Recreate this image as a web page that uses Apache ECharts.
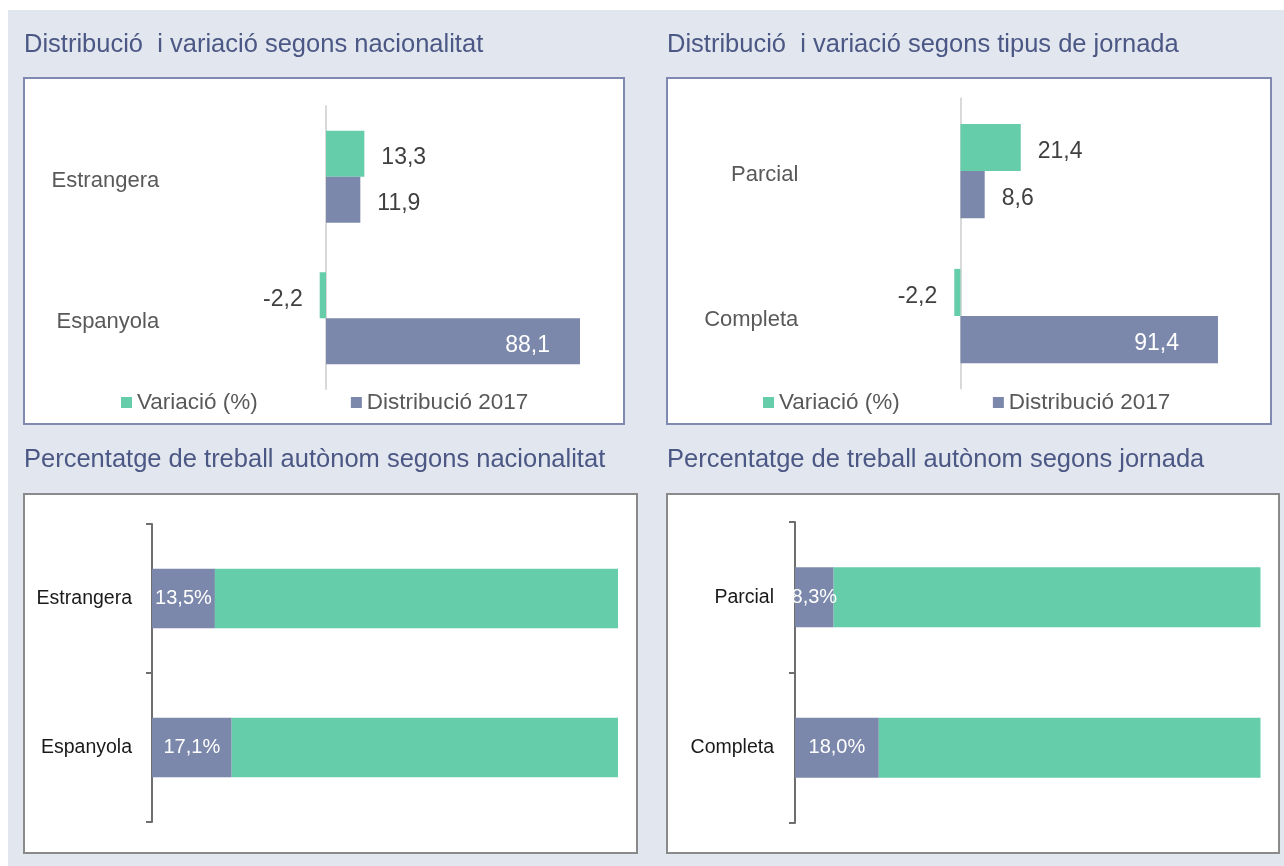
<!DOCTYPE html>
<html>
<head>
<meta charset="utf-8">
<script src="https://cdn.jsdelivr.net/npm/echarts@6/dist/echarts.min.js"></script>
<style>
html, body { margin: 0; padding: 0; background: #fff; }
#main { width: 1284px; height: 866px; }
</style>
</head>
<body>
<div id="main"></div>
<script>
// distribucio i variacio (top charts)
var natCats = ['Estrangera', 'Espanyola'];
var natVariacio = [13.3, -2.2];
var natDistribucio = [11.9, 88.1];

var jorCats = ['Parcial', 'Completa'];
var jorVariacio = [21.4, -2.2];
var jorDistribucio = [8.6, 91.4];

// percentatge de treball autonom (bottom charts)
var natAutonom = [13.5, 17.1];
var natResta = [86.5, 82.9];
var jorAutonom = [8.3, 18.0];
var jorResta = [91.7, 82.0];

var legendNames = ['Variació (%)', 'Distribució 2017'];

var GREEN = '#66cdaa';
var PURPLE = '#7b88ab';
var FONT = '"Liberation Sans", Arial, sans-serif';
var TITLE_COLOR = '#4b5784';

function comma(v) { return v.toFixed(1).replace('.', ','); }

// label side depends on sign
function varItems(vals) {
  return vals.map(function (v) {
    return { value: v, label: { position: v < 0 ? 'left' : 'right' } };
  });
}
// big bars get the label inside, white
function distItems(vals, inset) {
  return vals.map(function (v) {
    if (v > 50) {
      return { value: v, label: { position: 'insideRight', distance: inset, color: '#fff' } };
    }
    return { value: v, label: { position: 'right' } };
  });
}

var valLabel = {
  show: true, distance: 17, fontSize: 23, color: '#404040', fontFamily: FONT,
  offset: [0, 4],
  formatter: function (p) { return comma(p.value); }
};

function topY(idx, cats, margin) {
  return {
    gridIndex: idx, type: 'category', data: cats, inverse: true,
    axisLine: { show: true, onZero: true, lineStyle: { color: '#d9d9d9', width: 2 } },
    axisTick: { show: false },
    // small line box pushes the text a few px below the band centre, like the original
    axisLabel: { margin: margin, fontSize: 22, color: '#595959', fontFamily: FONT,
      verticalAlign: 'top', lineHeight: 8 }
  };
}
function bottomY(idx, cats, margin) {
  return {
    gridIndex: idx, type: 'category', data: cats, inverse: true,
    axisLine: { show: true, lineStyle: { color: '#6e6e6e', width: 2 } },
    axisTick: { show: true, length: 6, lineStyle: { color: '#6e6e6e', width: 2 } },
    axisLabel: { margin: margin, fontSize: 19.5, color: '#1a1a1a', fontFamily: FONT }
  };
}

function topSeries(idx, variacio, distribucio, inset) {
  return [{
    name: legendNames[0], type: 'bar', xAxisIndex: idx, yAxisIndex: idx,
    data: varItems(variacio), itemStyle: { color: GREEN },
    barGap: '0%', barCategoryGap: '35%', label: valLabel
  }, {
    name: legendNames[1], type: 'bar', xAxisIndex: idx, yAxisIndex: idx,
    data: distItems(distribucio, inset), itemStyle: { color: PURPLE },
    barGap: '0%', barCategoryGap: '35%', label: valLabel
  }];
}
function bottomSeries(idx, autonom, resta) {
  return [{
    type: 'bar', stack: 's' + idx, xAxisIndex: idx, yAxisIndex: idx,
    data: autonom, itemStyle: { color: PURPLE }, barCategoryGap: '60%',
    label: {
      show: true, position: 'inside', fontSize: 20, color: '#fff', fontFamily: FONT,
      formatter: function (p) { return comma(p.value) + '%'; }
    }
  }, {
    type: 'bar', stack: 's' + idx, xAxisIndex: idx, yAxisIndex: idx,
    data: resta, itemStyle: { color: GREEN }, barCategoryGap: '60%'
  }];
}

function box(x, y, w, h, stroke) {
  return { type: 'rect', shape: { x: x, y: y, width: w, height: h },
    style: { fill: '#fff', stroke: stroke, lineWidth: 2 }, z: -5 };
}
function title(text, left, top) {
  return { text: text, left: left, top: top, padding: 0,
    textStyle: { fontSize: 25.5, fontWeight: 'normal', color: TITLE_COLOR, fontFamily: FONT } };
}
function legend(left) {
  return { data: legendNames, left: left, top: 391, padding: 0, icon: 'rect',
    itemWidth: 11, itemHeight: 11, itemGap: 93,
    textStyle: { fontSize: 22.5, color: '#595959', fontFamily: FONT } };
}

var chart = echarts.init(document.getElementById('main'));
chart.setOption({
  animation: false,
  graphic: [
    { type: 'rect', shape: { x: 8, y: 10, width: 1276, height: 856 }, style: { fill: '#e2e6ee' }, z: -10 },
    box(24, 78, 600, 346, '#7f89b1'),
    box(667, 78, 604, 346, '#7f89b1'),
    box(24, 494, 613, 359, '#8a8a8a'),
    box(667, 494, 612, 359, '#8a8a8a')
  ],
  title: [
    title('Distribució  i variació segons nacionalitat', 24, 32),
    title('Distribució  i variació segons tipus de jornada', 667, 32),
    title('Percentatge de treball autònom segons nacionalitat', 24, 447),
    title('Percentatge de treball autònom segons jornada', 667, 447)
  ],
  legend: [legend(121), legend(763)],
  grid: [
    { left: 297.2, top: 106, width: 317.1, height: 283 },
    { left: 932.3, top: 98.5, width: 309.9, height: 290 },
    { left: 152, top: 524, width: 466, height: 298 },
    { left: 795, top: 522, width: 465.5, height: 301 }
  ],
  xAxis: [
    { gridIndex: 0, type: 'value', min: -10, max: 100, show: false },
    { gridIndex: 1, type: 'value', min: -10, max: 100, show: false },
    { gridIndex: 2, type: 'value', min: 0, max: 100, show: false },
    { gridIndex: 3, type: 'value', min: 0, max: 100, show: false }
  ],
  yAxis: [
    topY(0, natCats, 138),
    topY(1, jorCats, 134),
    bottomY(2, natCats, 20),
    bottomY(3, jorCats, 21)
  ],
  series: [].concat(
    topSeries(0, natVariacio, natDistribucio, 30),
    topSeries(1, jorVariacio, jorDistribucio, 39),
    bottomSeries(2, natAutonom, natResta),
    bottomSeries(3, jorAutonom, jorResta)
  )
});
</script>
</body>
</html>
